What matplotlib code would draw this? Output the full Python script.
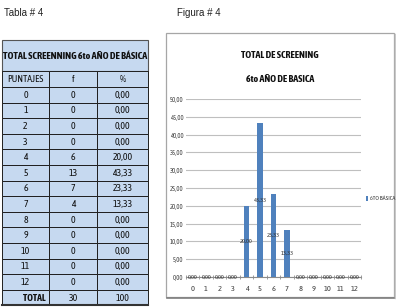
import matplotlib.pyplot as plt
from matplotlib.patches import Rectangle

puntajes = [0, 1, 2, 3, 4, 5, 6, 7, 8, 9, 10, 11, 12]
frecuencia = [0, 0, 0, 0, 6, 13, 7, 4, 0, 0, 0, 0, 0]
porcentaje = [0.00, 0.00, 0.00, 0.00, 20.00, 43.33, 23.33, 13.33, 0.00, 0.00, 0.00, 0.00, 0.00]
total_f = 30
total_pct = 100
yticks = [0, 5, 10, 15, 20, 25, 30, 35, 40, 45, 50]
serie = "6TO BÁSICA"

narrow = ['Asap Condensed', 'DejaVu Sans']

def coma(v):
    return f"{v:.2f}".replace('.', ',')

W, H = 396, 307
fig = plt.figure(figsize=(W / 100, H / 100), dpi=100)

# page layer in pixel coordinates
pg = fig.add_axes([0, 0, 1, 1])
pg.set_xlim(0, W)
pg.set_ylim(H, 0)
pg.axis('off')

pg.text(4, 13, "Tabla # 4", fontsize=7, family='Liberation Sans', va='center', color='#222222')
pg.text(177, 13, "Figura # 4", fontsize=7, family='Liberation Sans', va='center', color='#222222')

# table
fill = '#c6d9f0'
edge = '#1f1f1f'
cols = [2, 49, 97, 148]
top, title_h, head_h, row_h = 40, 31, 16, 15.6

pg.add_patch(Rectangle((cols[0], top), cols[3] - cols[0], title_h, facecolor=fill, edgecolor='#555555', lw=0.8))
pg.text((cols[0] + cols[3]) / 2, top + title_h / 2 + 1, "TOTAL SCREENNING 6to AÑO DE BÁSICA",
        ha='center', va='center', fontsize=7.3, fontweight='bold', family=narrow, color='#111111')

rows = [("PUNTAJES", "f", "%")]
for p, f, v in zip(puntajes, frecuencia, porcentaje):
    rows.append((str(p), str(f), coma(v)))
rows.append(("TOTAL", str(total_f), str(total_pct)))

y = top + title_h
for i, r in enumerate(rows):
    h = head_h if i == 0 else row_h
    for j in range(3):
        pg.add_patch(Rectangle((cols[j], y), cols[j + 1] - cols[j], h, facecolor=fill, edgecolor=edge, lw=0.7))
        txt = r[j]
        bold = (i == len(rows) - 1 and j == 0)
        xx = (cols[j] + cols[j + 1]) / 2
        ha = 'center'
        if bold:
            xx = cols[1] - 3
            ha = 'right'
        pg.text(xx, y + h / 2 + 0.5, txt, ha=ha, va='center', fontsize=7,
                fontweight='bold' if bold else 'normal', family=narrow, color='#111111')
    y += h
pg.plot([cols[0], cols[3]], [y, y], color='#333333', lw=1.5)

# chart frame
pg.add_patch(Rectangle((166, 33), 228, 264, facecolor='white', edgecolor='#a6a6a6', lw=0.9))
pg.plot([167, 395], [298, 298], color='#7f7f7f', lw=1.2)
pg.plot([395, 395], [34, 298], color='#c8c8c8', lw=1.0)

pg.text(280, 55, "TOTAL DE SCREENING", ha='center', va='center', fontsize=7.2,
        fontweight='bold', family=narrow, color='#111111')
pg.text(280, 79, "6to AÑO DE BASICA", ha='center', va='center', fontsize=7.2,
        fontweight='bold', family=narrow, color='#111111')

# legend
pg.add_patch(Rectangle((365.5, 195.5), 2.5, 5, facecolor='#4f81bd', edgecolor='none'))
pg.text(369.5, 198, serie, ha='left', va='center', fontsize=4.3, family=narrow, color='#333333')

# bar chart
ax = fig.add_axes([186 / W, 1 - 277 / H, (361 - 186) / W, (277 - 99) / H])
ax.patch.set_alpha(0)
ax.bar(puntajes, porcentaje, width=0.38, color='#4f81bd', zorder=3)
ax.set_xlim(-0.5, 12.5)
ax.set_ylim(0, 50)
ax.set_yticks(yticks)
ax.set_yticklabels([coma(t) for t in yticks])
ax.set_xticks(puntajes)
ax.set_xticks([p - 0.5 for p in puntajes] + [12.5], minor=True)
ax.grid(axis='y', color='#bfbfbf', lw=0.8, zorder=0)
for s in ['top', 'right', 'left']:
    ax.spines[s].set_visible(False)
ax.spines['bottom'].set_color('#8c8c8c')
ax.spines['bottom'].set_linewidth(0.8)
ax.tick_params(axis='y', length=0, labelsize=4.8, labelcolor='#404040', pad=2)
ax.tick_params(axis='x', which='major', length=0, labelsize=6, labelcolor='#404040', pad=6)
ax.tick_params(axis='x', which='minor', length=3, direction='inout', color='#8c8c8c', width=0.6)
for lab in ax.get_xticklabels() + ax.get_yticklabels():
    lab.set_family(narrow)

for p, v in zip(puntajes, porcentaje):
    ax.text(p, v / 2, coma(v), ha='center', va='center', fontsize=4.5,
            family=narrow, color='#333333', zorder=4)

fig.savefig("out.png", dpi=100)
